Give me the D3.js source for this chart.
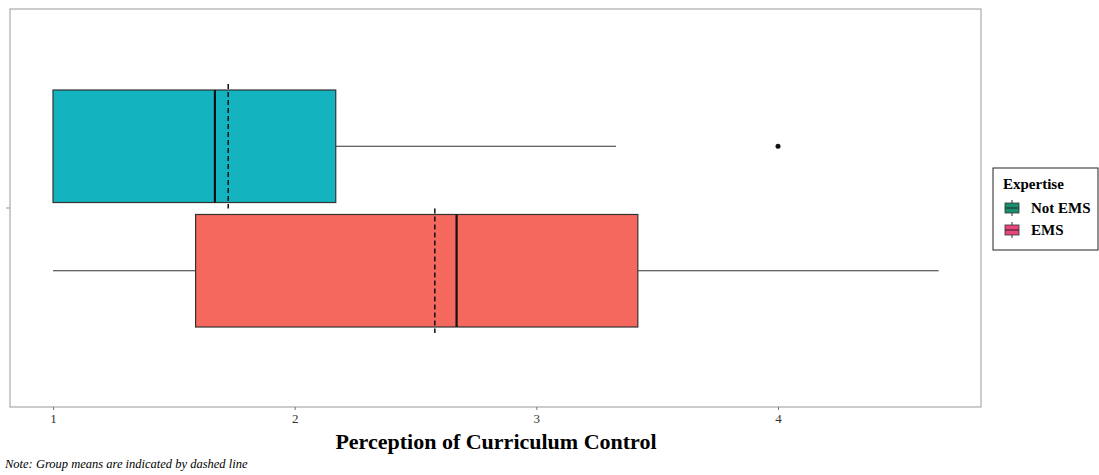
<!DOCTYPE html>
<html><head><meta charset="utf-8">
<script src="https://cdn.jsdelivr.net/npm/d3@7/dist/d3.min.js"></script>
<style>body{margin:0;background:#fff}svg{display:block}text{font-family:"Liberation Serif","Times New Roman",serif}</style>
</head><body>
<svg id="c" width="1099" height="475"></svg>
<script>
const groups = ["Not EMS", "EMS"];
const colors = ["#13b4bf", "#f4685e"];
const q1 = [1.0, 1.59];
const medians = [1.67, 2.67];
const q3 = [2.17, 3.42];
const whiskerLow = [1.0, 1.0];
const whiskerHigh = [3.33, 4.665];
const means = [1.725, 2.58];
const outliers = [[4.0], []];
const xTicks = [1, 2, 3, 4];
const xTitle = "Perception of Curriculum Control";
const legendTitle = "Expertise";
const note = "Note: Group means are indicated by dashed line";

const svg = d3.select("#c");
const panel = {l: 10, t: 9, r: 981, b: 407};
const x = d3.scaleLinear().domain([1, 4]).range([53, 778]);
const yc0 = 208;
const dodge = d3.scaleBand().domain(groups).range([yc0 - 118, yc0 + 119]).paddingInner(0.096).paddingOuter(0);

svg.append("rect").attr("x", panel.l).attr("y", panel.t).attr("width", panel.r - panel.l).attr("height", panel.b - panel.t)
  .attr("fill", "none").attr("stroke", "#999").attr("stroke-width", 1);

const g = svg.append("g");
groups.forEach((name, i) => {
  const y0 = dodge(name), h = dodge.bandwidth(), yc = y0 + h / 2;
  if (whiskerLow[i] < q1[i]) g.append("line").attr("x1", x(whiskerLow[i])).attr("x2", x(q1[i])).attr("y1", yc).attr("y2", yc).attr("stroke", "#333").attr("stroke-width", 1.2);
  if (whiskerHigh[i] > q3[i]) g.append("line").attr("x1", x(q3[i])).attr("x2", x(whiskerHigh[i])).attr("y1", yc).attr("y2", yc).attr("stroke", "#333").attr("stroke-width", 1.2);
  g.append("rect").attr("x", x(q1[i])).attr("y", y0).attr("width", x(q3[i]) - x(q1[i])).attr("height", h)
    .attr("fill", colors[i]).attr("stroke", "#333").attr("stroke-width", 1.2);
  g.append("line").attr("x1", x(means[i])).attr("x2", x(means[i])).attr("y1", y0 - 6).attr("y2", y0 + h + 6)
    .attr("stroke", "#111").attr("stroke-width", 1.5).attr("stroke-dasharray", "5,3");
  g.append("line").attr("x1", x(medians[i])).attr("x2", x(medians[i])).attr("y1", y0).attr("y2", y0 + h)
    .attr("stroke", "#111").attr("stroke-width", 2.2);
  outliers[i].forEach(v => g.append("circle").attr("cx", x(v)).attr("cy", yc).attr("r", 2.5).attr("fill", "#111"));
});

svg.append("line").attr("x1", 6).attr("x2", panel.l).attr("y1", yc0).attr("y2", yc0).attr("stroke", "#999");

const ax = svg.append("g").attr("transform", `translate(0,${panel.b})`)
  .call(d3.axisBottom(x).tickValues(xTicks).tickFormat(d3.format("d")).tickSize(3).tickPadding(4));
ax.select(".domain").remove();
ax.selectAll("line").attr("stroke", "#777");
ax.selectAll("text").attr("font-family", null).attr("font-size", 13).attr("fill", "#333");

svg.append("text").attr("x", 496).attr("y", 449).attr("text-anchor", "middle")
  .attr("font-weight", "bold").attr("font-size", 22).attr("fill", "#000").text(xTitle);
svg.append("text").attr("x", 5).attr("y", 468)
  .attr("font-style", "italic").attr("font-size", 12.5).attr("fill", "#000").text(note);

const lg = svg.append("g").attr("transform", "translate(993,168)");
lg.append("rect").attr("width", 105).attr("height", 82).attr("fill", "#fff").attr("stroke", "#222").attr("stroke-width", 1);
lg.append("text").attr("x", 10).attr("y", 21).attr("font-weight", "bold").attr("font-size", 15).text(legendTitle);
groups.forEach((name, i) => {
  const ky = 32 + i * 22;
  const k = lg.append("g").attr("transform", `translate(11,${ky})`);
  k.append("line").attr("x1", 8).attr("x2", 8).attr("y1", 0).attr("y2", 16).attr("stroke", "#333");
  k.append("rect").attr("x", 1).attr("y", 3).attr("width", 14).attr("height", 10).attr("fill", i === 0 ? "#1a8f70" : "#e8457a").attr("stroke", "#333").attr("stroke-width", 0.8);
  k.append("line").attr("x1", 1).attr("x2", 15).attr("y1", 8).attr("y2", 8).attr("stroke", "#222").attr("stroke-width", 1);
  lg.append("text").attr("x", 38).attr("y", ky + 13).attr("font-weight", "bold").attr("font-size", 15).text(name);
});
</script>
</body></html>
